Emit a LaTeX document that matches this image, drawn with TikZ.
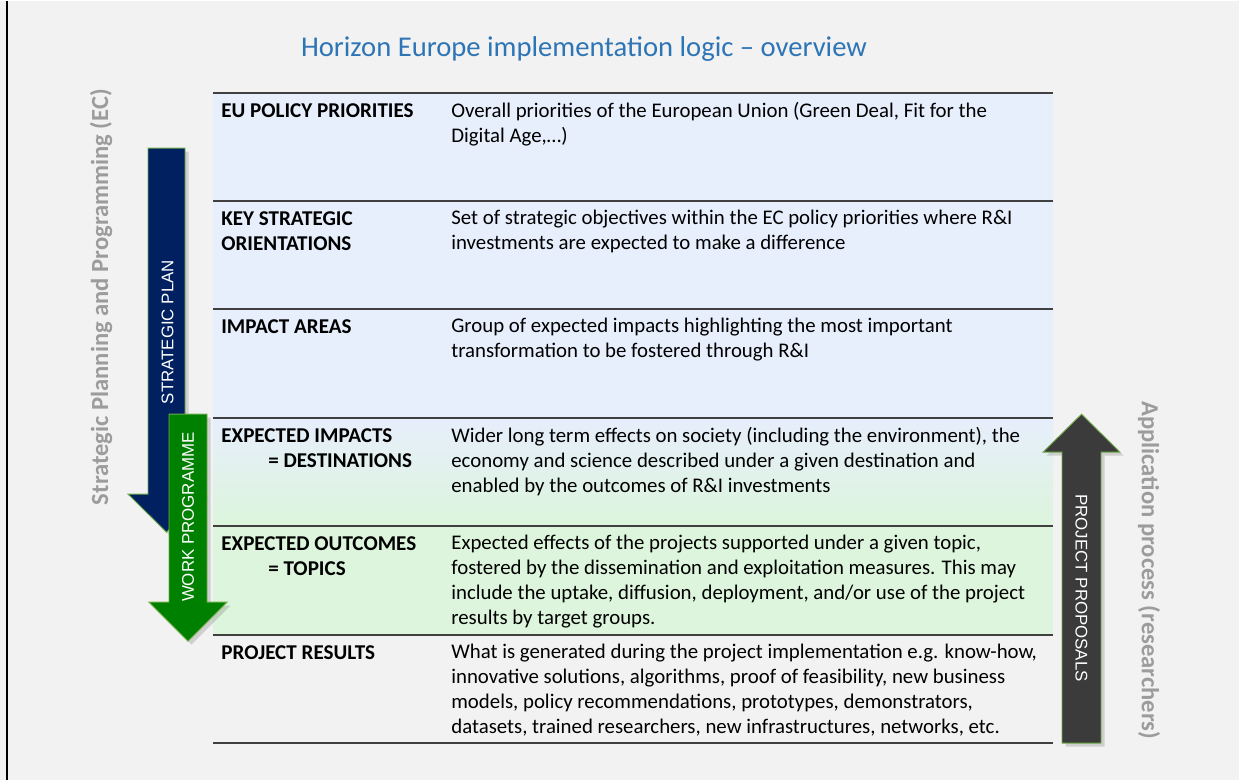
\documentclass[tikz,border=0pt]{standalone}
\usepackage{fontspec}
\setmainfont{Carlito}
\newfontfamily\arrowfont{Liberation Sans}
\usetikzlibrary{shadows}
\definecolor{pagebg}{HTML}{F2F2F2}
\definecolor{titleblue}{HTML}{2E75B6}
\definecolor{rowblue}{HTML}{E7EEFC}
\definecolor{rowgreen}{HTML}{DCF5DC}
\definecolor{rulegray}{HTML}{404040}
\definecolor{sidegray}{HTML}{9C9C9C}
\definecolor{planblue}{HTML}{002060}
\definecolor{wpgreen}{HTML}{008000}
\definecolor{propgray}{HTML}{3B3B3B}
\definecolor{edgegreen}{HTML}{70AD47}

\begin{document}
\begin{tikzpicture}[x=0.02cm, y=-0.02cm,
    lbl/.style={anchor=north west, inner sep=0pt, align=left, font=\fontsize{12}{14.2}\selectfont\bfseries},
    desc/.style={anchor=north west, inner sep=0pt, align=left, font=\fontsize{11.85}{14.2}\selectfont},
    rowline/.style={draw=rulegray, line width=1.1pt},
    bigarrow/.style={draw=edgegreen, line width=0.5pt, drop shadow={shadow xshift=2pt, shadow yshift=-2pt, opacity=0.3}},
    arrowtext/.style={text=white, font=\arrowfont\fontsize{9.6}{11}\selectfont, inner sep=0pt},
    sidetext/.style={text=sidegray, font=\fontsize{14}{16}\selectfont\bfseries, inner sep=0pt}]
  \fill[pagebg] (0,0) rectangle (1239,779);
  \draw[line width=1.3pt] (7,0) -- (7,779);
  \node[text=titleblue, font=\fontsize{16.3}{19}\selectfont] (title) at (584,48) {Horizon Europe implementation logic -- overview};

  \fill[rowblue] (213,92) rectangle (1053,417);
  \shade[top color=rowblue, bottom color=rowgreen] (213,417) rectangle (1053,525);
  \fill[rowgreen] (213,525) rectangle (1053,634);
  \foreach \y in {92,200,308,417,525,634,742}
    \draw[rowline] (213,\y) -- (1053,\y);

  \node[lbl] (prio) at (221,102) {EU POLICY PRIORITIES};
  \node[desc] (priotxt) at (451,101) {Overall priorities of the European Union (Green Deal, Fit for the\\Digital Age,…)};
  \node[lbl] (orient) at (221,210) {KEY STRATEGIC\\ORIENTATIONS};
  \node[desc] (orienttxt) at (451,209) {Set of strategic objectives within the EC policy priorities where R\&I\\investments are expected to make a difference};
  \node[lbl] (areas) at (221,318) {IMPACT AREAS};
  \node[desc] (areastxt) at (451,317) {Group of expected impacts highlighting the most important\\transformation to be fostered through R\&I};
  \node[lbl] (impacts) at (221,427) {EXPECTED IMPACTS\\\hspace*{0.94cm}= DESTINATIONS};
  \node[desc] (impactstxt) at (451,426) {Wider long term effects on society (including the environment), the\\economy and science described under a given destination and\\enabled by the outcomes of R\&I investments};
  \node[lbl] (outcomes) at (221,535) {EXPECTED OUTCOMES\\\hspace*{0.94cm}= TOPICS};
  \node[desc] (outcomestxt) at (451,534) {Expected effects of the projects supported under a given topic,\\fostered by the dissemination and exploitation measures. This may\\include the uptake, diffusion, deployment, and/or use of the project\\results by target groups.};
  \node[lbl] (results) at (221,644) {PROJECT RESULTS};
  \node[desc] (resultstxt) at (451,643) {What is generated during the project implementation e.g. know-how,\\innovative solutions, algorithms, proof of feasibility, new business\\models, policy recommendations, prototypes, demonstrators,\\datasets, trained researchers, new infrastructures, networks, etc.};

  \filldraw[bigarrow, fill=planblue] (148,147) -- (185,147) -- (185,493) -- (205,493) -- (166.5,531) -- (128,493) -- (148,493) -- cycle;
  \filldraw[bigarrow, fill=wpgreen] (169,413) -- (207,413) -- (207,601) -- (227,601) -- (188,640) -- (149,601) -- (169,601) -- cycle;
  \filldraw[bigarrow, fill=propgray] (1062,742) -- (1101,742) -- (1101,451) -- (1120,451) -- (1081.5,413) -- (1043,451) -- (1062,451) -- cycle;

  \node[arrowtext, rotate=90] (plan) at (167.5,331) {STRATEGIC PLAN};
  \node[arrowtext, rotate=90] (wp) at (188,516) {WORK PROGRAMME};
  \node[arrowtext, rotate=-90] (proposals) at (1081.5,587) {PROJECT PROPOSALS};
  \node[sidetext, rotate=90] (ec) at (101,296) {Strategic Planning and Programming (EC)};
  \node[sidetext, rotate=-90] (researchers) at (1149,569) {Application process (researchers)};
\end{tikzpicture}
\end{document}
